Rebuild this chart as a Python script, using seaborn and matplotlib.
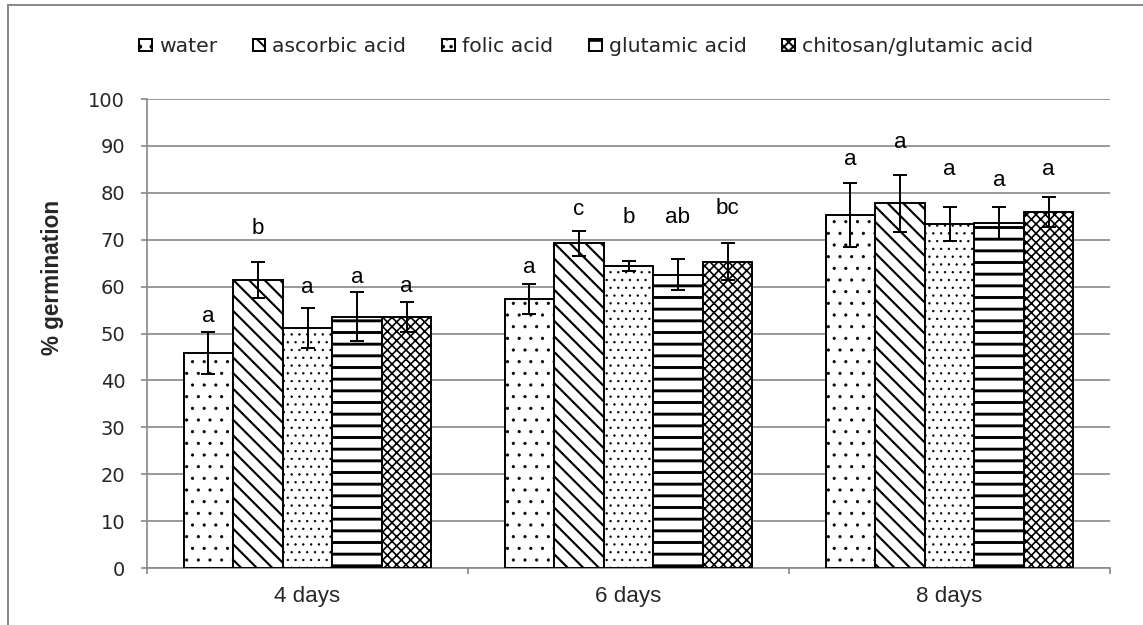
import numpy as np
import pandas as pd
import matplotlib
matplotlib.use("Agg")
import matplotlib.pyplot as plt
import seaborn as sns
from matplotlib.patches import Patch, Rectangle
from matplotlib.ticker import FixedLocator

# ---------------- data ----------------
days = ["4 days", "6 days", "8 days"]
treatments = ["water", "ascorbic acid", "folic acid", "glutamic acid",
              "chitosan/glutamic acid"]

water = [45.8, 57.4, 75.3]
ascorbic = [61.4, 69.2, 77.8]
folic = [51.2, 64.4, 73.3]
glutamic = [53.6, 62.5, 73.6]
chitosan = [53.6, 65.3, 75.9]

water_err = [4.5, 3.2, 6.8]
ascorbic_err = [3.9, 2.7, 6.1]
folic_err = [4.3, 1.1, 3.6]
glutamic_err = [5.2, 3.3, 3.45]
chitosan_err = [3.2, 3.9, 3.25]

water_letters = ["a", "a", "a"]
ascorbic_letters = ["b", "c", "a"]
folic_letters = ["a", "b", "a"]
glutamic_letters = ["a", "ab", "a"]
chitosan_letters = ["a", "bc", "a"]

# heights (in % germination) of the significance letters' baselines
water_lab_y = [52.4, 62.8, 85.9]
ascorbic_lab_y = [71.2, 75.3, 89.5]
folic_lab_y = [58.7, 73.5, 83.9]
glutamic_lab_y = [60.8, 73.5, 81.4]
chitosan_lab_y = [58.8, 75.4, 83.9]

yticks = list(range(0, 101, 10))
ylabel = "% germination"

values = [water, ascorbic, folic, glutamic, chitosan]
errors = [water_err, ascorbic_err, folic_err, glutamic_err, chitosan_err]
letters = [water_letters, ascorbic_letters, folic_letters, glutamic_letters,
           chitosan_letters]
lab_y = [water_lab_y, ascorbic_lab_y, folic_lab_y, glutamic_lab_y,
         chitosan_lab_y]

df = pd.DataFrame({
    "day": [d for _ in treatments for d in days],
    "treatment": [t for t in treatments for _ in days],
    "value": [v for series in values for v in series],
})

# ---------------- style ----------------
DPI = 140
sns.set_style("white")
plt.rcParams["font.family"] = ["DejaVu Sans"]
plt.rcParams["hatch.linewidth"] = 1.0
GREY = "#878787"

hatches = ["..", "\\\\\\", "...", "--", "xxxxx"]
hatch_lw = [0.4, 1.1, 0.4, 1.5, 0.85]

fig = plt.figure(figsize=(1143 / DPI, 625 / DPI), dpi=DPI)
ax = fig.add_axes([147 / 1143, 1 - 568 / 625, (1110 - 147) / 1143, (568 - 99) / 625])

sns.barplot(data=df, x="day", y="value", hue="treatment", order=days,
            hue_order=treatments, palette={t: "white" for t in treatments},
            saturation=1, width=0.772, gap=0, errorbar=None,
            edgecolor="black", linewidth=1.0, legend=False, ax=ax, zorder=3)

bar_containers = list(ax.containers)[:len(treatments)]
for i, cont in enumerate(bar_containers):
    for j, bar in enumerate(cont.patches):
        bar.set_hatch(hatches[i])
        if hasattr(bar, "set_hatch_linewidth"):
            bar.set_hatch_linewidth(hatch_lw[i])
        xc = bar.get_x() + bar.get_width() / 2
        ax.errorbar(xc, values[i][j], yerr=errors[i][j], fmt="none",
                    ecolor="black", elinewidth=1.0, capsize=3.6, capthick=1.0,
                    zorder=5)
        ax.text(xc, lab_y[i][j], letters[i][j], ha="center", va="baseline",
                fontsize=11.5, family="Liberation Sans", color="black",
                zorder=6)

ax.set_ylim(0, 100)
ax.set_xlim(-0.5, 2.5)
ax.set_yticks(yticks)
ax.set_yticklabels([str(t) for t in yticks], fontsize=10, family="DejaVu Sans")
ax.set_xlabel("")
ax.set_ylabel("")
ax.yaxis.grid(True, color=GREY, linewidth=0.85, zorder=0)
ax.set_axisbelow(True)
for s in ["top", "right"]:
    ax.spines[s].set_visible(False)
for s in ["left", "bottom"]:
    ax.spines[s].set_color(GREY)
    ax.spines[s].set_linewidth(0.85)

ax.tick_params(axis="y", which="major", direction="out", length=3, width=0.85,
               color=GREY, pad=8.2, left=True)
ax.tick_params(axis="x", which="major", length=0, pad=9.3, bottom=True)
for lab in ax.get_xticklabels():
    lab.set_family("Liberation Sans")
    lab.set_fontsize(11.5)
ax.xaxis.set_minor_locator(FixedLocator([-0.5, 0.5, 1.5, 2.5]))
ax.tick_params(axis="x", which="minor", direction="out", length=3, width=0.85,
               color=GREY, bottom=True)

fig.text(53 / 1143, 1 - 277 / 625, ylabel, rotation=90, ha="center",
         va="center", fontsize=11.6, fontweight="bold", family="Liberation Sans")

handles = []
for i, t in enumerate(treatments):
    p = Patch(facecolor="white", edgecolor="black", hatch=hatches[i],
              linewidth=1.0, label=t)
    if hasattr(p, "set_hatch_linewidth"):
        p.set_hatch_linewidth(hatch_lw[i])
    handles.append(p)
fig.legend(handles=handles, labels=treatments, loc="center",
           bbox_to_anchor=(586 / 1143, 1 - 47 / 625), ncol=5, frameon=False,
           fontsize=10.5, handlelength=0.63, handleheight=0.54,
           handletextpad=0.34, columnspacing=1.75, borderpad=0,
           borderaxespad=0)

fig.patches.append(Rectangle((8 / 1143, -0.1), 1.2, 1.1 - 5 / 625,
                             transform=fig.transFigure, fill=False,
                             edgecolor=GREY, linewidth=1.0, zorder=0))

fig.savefig("out.png", dpi=DPI, facecolor="white")
